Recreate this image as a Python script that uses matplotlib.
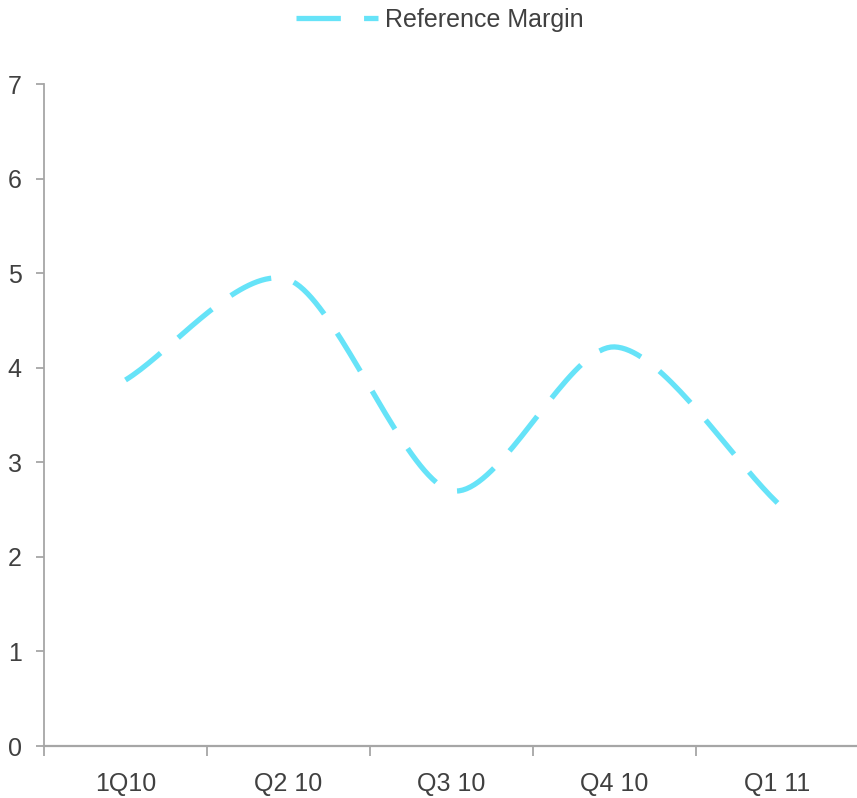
import numpy as np
import matplotlib.pyplot as plt

# данные
quarters = ['1Q10', 'Q2 10', 'Q3 10', 'Q4 10', 'Q1 11']
margin = [3.87, 4.93, 2.70, 4.22, 2.57]
series_name = 'Reference Margin'


def smooth_curve(xs, ys, n=40, k=1 / 7):
    # сглаживание Catmull-Rom, как у сглаженной линии в Excel
    xs = np.asarray(xs, float)
    ys = np.asarray(ys, float)
    px = np.concatenate([[2 * xs[0] - xs[1]], xs, [2 * xs[-1] - xs[-2]]])
    py = np.concatenate([[2 * ys[0] - ys[1]], ys, [2 * ys[-1] - ys[-2]]])
    out_x, out_y = [], []
    t = np.linspace(0, 1, n)
    for i in range(1, len(px) - 2):
        p0, p1, p2, p3 = px[i - 1], px[i], px[i + 1], px[i + 2]
        q0, q1, q2, q3 = py[i - 1], py[i], py[i + 1], py[i + 2]
        # кривая Безье с контрольными точками по касательным
        c1x, c1y = p1 + (p2 - p0) * k, q1 + (q2 - q0) * k
        c2x, c2y = p2 - (p3 - p1) * k, q2 - (q3 - q1) * k
        bx = (1 - t) ** 3 * p1 + 3 * (1 - t) ** 2 * t * c1x + 3 * (1 - t) * t ** 2 * c2x + t ** 3 * p2
        by = (1 - t) ** 3 * q1 + 3 * (1 - t) ** 2 * t * c1y + 3 * (1 - t) * t ** 2 * c2y + t ** 3 * q2
        if i > 1:
            bx, by = bx[1:], by[1:]
        out_x.extend(bx)
        out_y.extend(by)
    return np.array(out_x), np.array(out_y)


plt.rcParams['font.family'] = ['Liberation Sans', 'DejaVu Sans']

text_color = '#404040'
axis_color = '#a6a6a6'
line_color = '#66e3f8'

fig = plt.figure(figsize=(8.57, 7.98), dpi=100)
ax = fig.add_axes([44 / 857, 52 / 798, 815 / 857, 662 / 798])

x = np.arange(len(quarters))
sx, sy = smooth_curve(x, margin)
ax.plot(sx, sy, color=line_color, linewidth=3.8, dashes=(8.4, 4.4),
        dash_capstyle='butt', label=series_name)

ax.set_xlim(-0.5, len(quarters) - 0.5)
ax.set_ylim(0, 7)
ax.set_yticks(range(0, 8))
ax.set_xticks(x)
ax.set_xticklabels(quarters)
ax.set_xticks(np.arange(-0.5, len(quarters), 1.0), minor=True)

for side in ['top', 'right']:
    ax.spines[side].set_visible(False)
ax.spines['left'].set_color(axis_color)
ax.spines['left'].set_linewidth(1.3)
ax.spines['bottom'].set_color(axis_color)
ax.spines['bottom'].set_linewidth(1.6)

ax.tick_params(axis='y', length=6, width=1.3, color=axis_color,
               labelcolor=text_color, labelsize=18, pad=10)
ax.tick_params(axis='x', which='major', length=0, labelcolor=text_color,
               labelsize=18, pad=19)
ax.tick_params(axis='x', which='minor', length=7, width=1.3, color=axis_color)

fig.legend(loc='center', bbox_to_anchor=(0.513, 0.975), frameon=False,
           fontsize=18, labelcolor=text_color, handlelength=3.3,
           handletextpad=0.25)

fig.savefig('out.png', dpi=100)
